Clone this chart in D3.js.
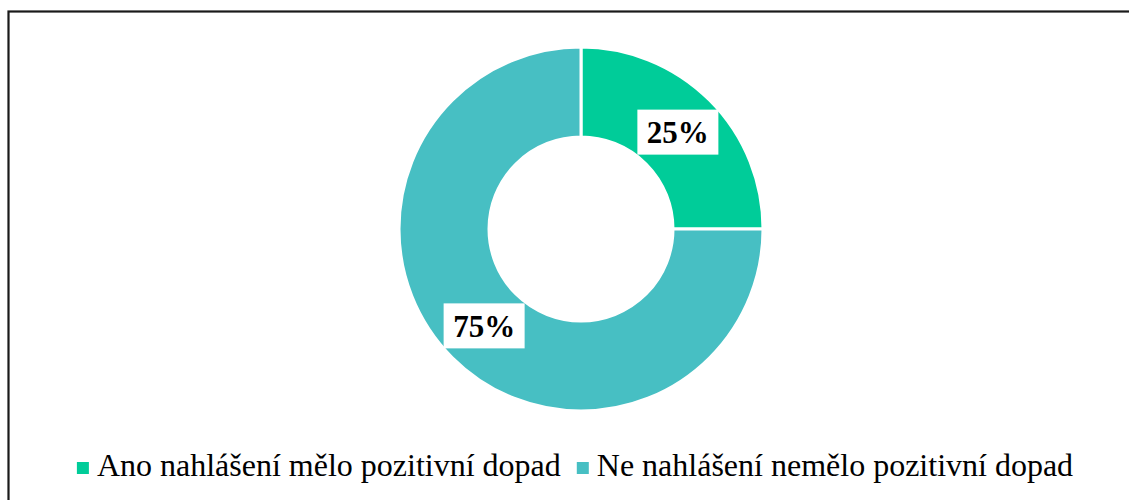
<!DOCTYPE html>
<meta charset="utf-8">
<style>
body { margin: 0; background: #fff; }
</style>
<body>
<div id="graph"></div>
<script src="https://cdn.jsdelivr.net/npm/d3@7"></script>
<script>
var categories = ["Ano nahlášení mělo pozitivní dopad", "Ne nahlášení nemělo pozitivní dopad"];
var values = [25, 75];
var colors = ["#00CC99", "#47BFC3"];

var font = "'Liberation Serif', 'Times New Roman', serif";
var width = 1129, height = 500;
var cx = 581, cy = 229, outerR = 182, innerR = 92;

var svg = d3.select("#graph").append("svg")
    .attr("width", width)
    .attr("height", height);

svg.append("rect")
    .attr("x", 8.5).attr("y", 11.5)
    .attr("width", 1200).attr("height", 600)
    .style("fill", "white")
    .style("stroke", "#1a1a1a")
    .style("stroke-width", 2.2);

var data = categories.map((c, i) => ({name: c, value: values[i]}));

var pie = d3.pie().sort(null).value(d => d.value);
var arc = d3.arc().innerRadius(innerR).outerRadius(outerR);

var g = svg.append("g").attr("transform", "translate(" + cx + "," + cy + ")");

g.selectAll(".slice")
    .data(pie(data))
    .enter().append("path")
    .attr("class", "slice")
    .attr("d", arc)
    .style("fill", (d, i) => colors[i])
    .style("stroke", "white")
    .style("stroke-width", 3);

// labels with white boxes
var labels = g.selectAll(".lbl")
    .data(pie(data))
    .enter().append("g")
    .attr("class", "lbl")
    .attr("transform", d => "translate(" + arc.centroid(d) + ")");
labels.append("rect")
    .attr("x", -40.5).attr("y", -22.5)
    .attr("width", 81).attr("height", 45)
    .style("fill", "white");
labels.append("text")
    .attr("text-anchor", "middle")
    .attr("dy", "0.35em")
    .attr("font-family", font)
    .style("font-size", "31px")
    .style("font-weight", "bold")
    .text(d => d.data.value + "%");

// legend
var legend = svg.append("g");
var lx = 0;
data.forEach(function(d, i) {
  var item = legend.append("g").attr("transform", "translate(" + lx + ",0)");
  item.append("rect")
      .attr("x", 0).attr("y", -14)
      .attr("width", 12).attr("height", 12)
      .style("fill", colors[i]);
  var t = item.append("text")
      .attr("x", 20).attr("y", 0)
      .attr("font-family", font)
      .style("font-size", "32px")
      .text(d.name);
  lx += 20 + t.node().getComputedTextLength() + 16;
});
var legW = lx - 16;
legend.attr("transform", "translate(" + (575 - legW / 2) + ",476)");
</script>
</body>
